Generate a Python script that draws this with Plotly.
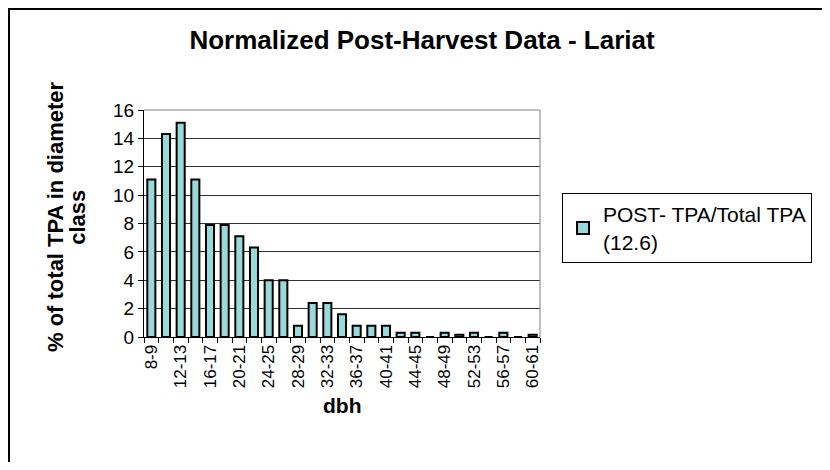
import plotly.graph_objects as go

# dbh diameter classes (2 inch steps)
dbh_classes = ['8-9', '10-11', '12-13', '14-15', '16-17', '18-19', '20-21', '22-23',
               '24-25', '26-27', '28-29', '30-31', '32-33', '34-35', '36-37', '38-39',
               '40-41', '42-43', '44-45', '46-47', '48-49', '50-51', '52-53', '54-55',
               '56-57', '58-59', '60-61']
post_pct = [11.1, 14.3, 15.1, 11.1, 7.9, 7.9, 7.1, 6.3,
            4.0, 4.0, 0.8, 2.4, 2.4, 1.6, 0.8, 0.8,
            0.8, 0.3, 0.3, 0.0, 0.3, 0.15, 0.3, 0.0,
            0.3, 0.0, 0.15]
y_ticks = [0, 2, 4, 6, 8, 10, 12, 14, 16]

idx = list(range(len(dbh_classes)))

fig = go.Figure()
fig.add_trace(go.Bar(
    x=idx, y=post_pct,
    name='POST- TPA/Total TPA<br>(12.6)',
    marker=dict(color='#9AD9D9', line=dict(color='black', width=2)),
))

# page body has an 8px margin, so the figure is 814x454 and sits at (8, 8)
font = 'Arial, Liberation Sans, sans-serif'
fig.update_layout(
    width=814, height=454,
    margin=dict(l=136, r=282, t=102, b=125, autoexpand=False),
    paper_bgcolor='white', plot_bgcolor='white',
    font=dict(family=font, color='black', size=17),
    bargap=0.45,
    showlegend=True,
    legend=dict(x=1.0556, y=0.634, xanchor='left', yanchor='top',
                bordercolor='black', borderwidth=1, bgcolor='white',
                font=dict(size=21), itemsizing='constant', itemwidth=30,
                tracegroupgap=0),
    title=dict(text='<b>Normalized Post-Harvest Data - Lariat</b>',
               x=0.5086, xref='container', xanchor='center',
               y=0.9295, yref='container', yanchor='middle',
               font=dict(size=26)),
)

fig.update_xaxes(
    range=[-0.5, len(dbh_classes) - 0.5],
    tickmode='array', tickvals=idx[::2], ticktext=dbh_classes[::2],
    tickangle=-90, ticks='', tickfont=dict(size=17),
    showgrid=False, zeroline=False,
    showline=True, linecolor='black', linewidth=1, mirror=False,
    minor=dict(tickmode='array', tickvals=[i - 0.5 for i in range(len(dbh_classes) + 1)],
               ticks='outside', ticklen=5, tickcolor='black', showgrid=False),
)
fig.update_yaxes(
    range=[0, 16], tickmode='array', tickvals=y_ticks,
    ticks='outside', ticklen=5, tickcolor='black', tickfont=dict(size=19),
    showgrid=True, gridcolor='#303030', gridwidth=1,
    zeroline=False, showline=True, linecolor='black', linewidth=1,
)

# gray frame on top/right of plot area
fig.add_shape(type='line', xref='paper', yref='paper', x0=0, x1=1, y0=1, y1=1,
              line=dict(color='#808080', width=1))
fig.add_shape(type='line', xref='paper', yref='paper', x0=1, x1=1, y0=0, y1=1,
              line=dict(color='#808080', width=1))

# axis titles
fig.add_annotation(text='<b>% of total TPA in diameter</b>',
                   xref='paper', yref='paper', x=-0.222, y=0.529,
                   xanchor='center', yanchor='middle', textangle=-90,
                   showarrow=False, font=dict(size=22))
fig.add_annotation(text='<b>class</b>',
                   xref='paper', yref='paper', x=-0.167, y=0.529,
                   xanchor='center', yanchor='middle', textangle=-90,
                   showarrow=False, font=dict(size=22))
fig.add_annotation(text='<b>dbh</b>', xref='paper', yref='paper', x=0.5, y=-0.30,
                   xanchor='center', yanchor='middle', showarrow=False,
                   font=dict(size=21))

# outer chart border (only left and top edges fall inside the picture)
fig.add_shape(type='rect', xref='paper', yref='paper',
              x0=(1 - 136) / 396, x1=(830 - 136) / 396,
              y0=(329 - 480) / 227, y1=(329 - 1) / 227,
              line=dict(color='black', width=2))

fig.write_html('out.html')
